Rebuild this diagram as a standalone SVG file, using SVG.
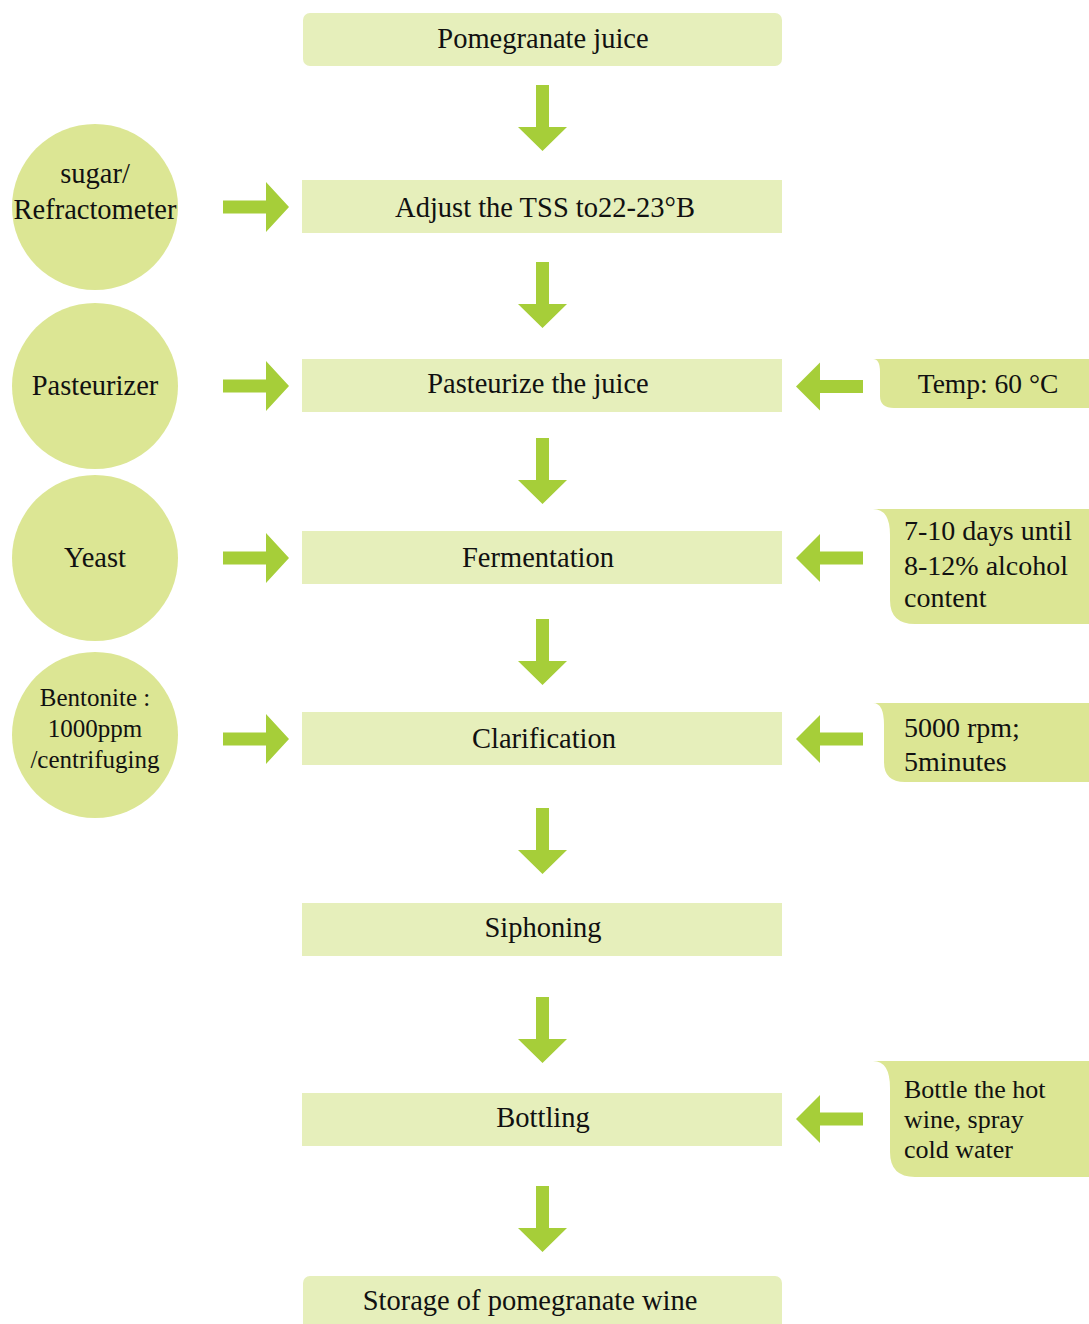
<svg xmlns="http://www.w3.org/2000/svg" width="1089" height="1324" viewBox="0 0 1089 1324">
<defs>
<style>
.box{fill:#E6EFBB}
.circ{fill:#DCE694}
.call{fill:#DCE694}
.arr{fill:#A6CE39}
text{font-family:"Liberation Serif","Times New Roman",serif;fill:#111;font-size:28.5px}
.c{text-anchor:middle}
.cl{font-size:28px}
</style>
<path id="down" d="M-6.5 0 H6.5 V42 H24.5 L0 66 L-24.5 42 H-6.5 Z"/>
<path id="right" d="M0 -6.5 H43 V-25 L66 0 L43 25 V6.5 H0 Z"/>
<path id="left" d="M0 -6.5 H-43 V-24 L-67 0 L-43 24 V6.5 H0 Z"/>
</defs>
<rect width="1089" height="1324" fill="#fff"/>

<g id="connectors" class="arr">
<use href="#down" x="542.5" y="85"/>
<use href="#down" x="542.5" y="262"/>
<use href="#down" x="542.5" y="438"/>
<use href="#down" x="542.5" y="619"/>
<use href="#down" x="542.5" y="808"/>
<use href="#down" x="542.5" y="997"/>
<use href="#down" x="542.5" y="1186"/>
<use href="#right" x="223" y="207"/>
<use href="#right" x="223" y="386"/>
<use href="#right" x="223" y="558"/>
<use href="#right" x="223" y="739"/>
<use href="#left" x="863" y="386.5"/>
<use href="#left" x="863" y="558"/>
<use href="#left" x="863" y="739"/>
<use href="#left" x="863" y="1119"/>
</g>

<g id="n1"><rect class="box" x="303" y="13" width="479" height="53" rx="7"/><text class="c" x="543" y="48">Pomegranate juice</text></g>
<g id="n2"><rect class="box" x="302" y="180" width="480" height="53"/><text class="c" x="545" y="217">Adjust the TSS to22-23°B</text></g>
<g id="n3"><rect class="box" x="302" y="359" width="480" height="53"/><text class="c" x="538" y="393">Pasteurize the juice</text></g>
<g id="n4"><rect class="box" x="302" y="531" width="480" height="53"/><text class="c" x="538" y="567">Fermentation</text></g>
<g id="n5"><rect class="box" x="302" y="712" width="480" height="53"/><text class="c" x="544" y="748">Clarification</text></g>
<g id="n6"><rect class="box" x="302" y="903" width="480" height="53"/><text class="c" x="543" y="937">Siphoning</text></g>
<g id="n7"><rect class="box" x="302" y="1093" width="480" height="53"/><text class="c" x="543" y="1127">Bottling</text></g>
<g id="n8"><rect class="box" x="303" y="1276" width="479" height="60" rx="7"/><text class="c" x="530" y="1310">Storage of pomegranate wine</text></g>

<g id="c1"><circle class="circ" cx="95" cy="207" r="83"/><text class="c" x="95" y="183">sugar/</text><text class="c" x="95" y="219">Refractometer</text></g>
<g id="c2"><circle class="circ" cx="95" cy="386" r="83"/><text class="c" x="95" y="395">Pasteurizer</text></g>
<g id="c3"><circle class="circ" cx="95" cy="558" r="83"/><text class="c" x="95" y="567">Yeast</text></g>
<g id="c4"><circle class="circ" cx="95" cy="735" r="83"/><text class="c" x="95" y="706" style="font-size:25px">Bentonite :</text><text class="c" x="95" y="737" style="font-size:25px">1000ppm</text><text class="c" x="95" y="768" style="font-size:25px">/centrifuging</text></g>

<g id="r1"><path class="call" d="M873 359 H1089 V408 H894 Q880 408 880 396 V372 Q880 359 873 359 Z"/><text class="c" x="988" y="393" style="font-size:27.5px">Temp: 60 °C</text></g>
<g id="r2"><path class="call" d="M873 509 H1089 V624 H915 Q890 624 890 600 V535 Q890 509 873 509 Z"/><text class="cl" x="904" y="540">7-10 days until</text><text class="cl" x="904" y="575">8-12% alcohol</text><text class="cl" x="904" y="607">content</text></g>
<g id="r3"><path class="call" d="M873 703 H1089 V782 H905 Q884 782 884 762 V725 Q884 703 873 703 Z"/><text class="cl" x="904" y="737">5000 rpm;</text><text class="cl" x="904" y="771">5minutes</text></g>
<g id="r4"><path class="call" d="M873 1061 H1089 V1177 H915 Q890 1177 890 1152 V1088 Q890 1061 873 1061 Z"/><text x="904" y="1098" style="font-size:26px">Bottle the hot</text><text x="904" y="1128" style="font-size:26px">wine, spray</text><text x="904" y="1158" style="font-size:26px">cold water</text></g>
</svg>
